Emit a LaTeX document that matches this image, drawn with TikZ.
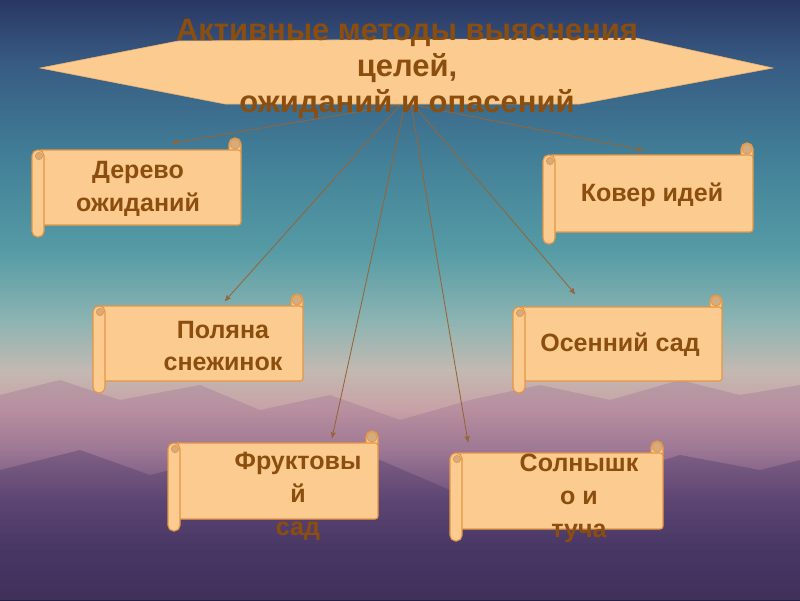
\documentclass[tikz,border=0pt]{standalone}
\usepackage{fontspec}
\setmainfont{Liberation Sans}
\usetikzlibrary{arrows}

\definecolor{peach}{RGB}{251,203,143}
\definecolor{rim}{RGB}{228,150,70}
\definecolor{curl}{RGB}{212,172,128}
\definecolor{ink}{RGB}{140,78,14}
\definecolor{wire}{RGB}{150,100,55}
\definecolor{bga}{RGB}{42,55,100}
\definecolor{bgb}{RGB}{55,90,130}
\definecolor{bgc}{RGB}{65,125,150}
\definecolor{bgd}{RGB}{85,155,165}
\definecolor{bge}{RGB}{140,180,178}
\definecolor{bgf}{RGB}{195,185,178}
\definecolor{bgg}{RGB}{200,160,165}
\definecolor{bgh}{RGB}{160,125,150}
\definecolor{bgi}{RGB}{90,70,115}
\definecolor{bgj}{RGB}{45,40,85}
\definecolor{bgk}{RGB}{30,28,65}
\definecolor{hill}{RGB}{150,105,145}
\definecolor{deep}{RGB}{60,45,95}

\newcommand{\scrollbox}[4]{%
 \draw[scrl,rounded corners=4pt] (#3-12,#2+14) -- (#3-12,#2) -- (#3,#2) -- (#3,#2+14);
 \draw[scrl,rounded corners=2pt] (#1+6,#2+12) rectangle (#3,#4-12);
 \draw[scrl,rounded corners=4pt] (#1,#2+12) rectangle (#1+12,#4);
 \draw[rim,fill=curl,line width=.5pt] (#1+7,#2+18) circle (2.6pt);
 \draw[rim,fill=curl,line width=.5pt] (#3-6,#2+6) circle (3.6pt);
}

\begin{document}
\begin{tikzpicture}[x=0.025cm,y=-0.025cm,
 scrl/.style={draw=rim,fill=peach,line width=.8pt},
 lbl/.style={text=ink,font=\bfseries\fontsize{17.8}{23.4}\selectfont,align=center},
 ttl/.style={text=ink,font=\bfseries\fontsize{22}{25.6}\selectfont,align=center},
 lnk/.style={wire,line width=.6pt,->,>=stealth'}]
\useasboundingbox (0,0) rectangle (800,600);
% background
\foreach \ya/\yb/\ca/\cb in {0/60/bga/bgb, 60/150/bgb/bgc, 150/250/bgc/bgd, 250/320/bgd/bge,
 320/370/bge/bgf, 370/410/bgf/bgg, 410/450/bgg/bgh, 450/500/bgh/bgi, 500/550/bgi/bgj, 550/600/bgj/bgk} {
 \shade[top color=\ca,bottom color=\cb] (0,\ya) rectangle (800,\yb+1);
}
\fill[hill,opacity=.3] (0,395) -- (60,380) -- (120,400) -- (200,385) -- (260,410) -- (330,395) -- (400,420)
 -- (470,400) -- (540,385) -- (610,400) -- (680,380) -- (740,395) -- (800,385) -- (800,600) -- (0,600) -- cycle;
\fill[deep,opacity=.3] (0,470) -- (80,450) -- (150,475) -- (230,455) -- (310,480) -- (380,460) -- (450,490)
 -- (530,465) -- (600,480) -- (680,455) -- (760,470) -- (800,460) -- (800,600) -- (0,600) -- cycle;
% links
\foreach \n/\sx/\ex/\ey in {dre/405/172/143, pol/401/225/301, fru/405/332/438,
 sol/411/468/442, ose/413/575/294, kov/408/643/150} {
 \coordinate (s\n) at (\sx,104);
 \coordinate (e\n) at (\ex,\ey);
 \draw[lnk] (s\n) -- (e\n);
}
% title
\draw[fill=peach,draw=rim!50!peach] (40,68) -- (178,41) -- (636,38) -- (773,68) -- (580,104) -- (225,104) -- cycle;
\node[ttl] (ttl) at (407,69) {Активные методы выяснения\\целей,\\ожиданий и опасений};
% scrolls
\scrollbox{32}{138}{241}{237}
\scrollbox{543}{143}{753}{244}
\scrollbox{93}{294}{303}{393}
\scrollbox{513}{295}{722}{393}
\scrollbox{168}{431}{378}{531}
\scrollbox{450}{441}{663}{541}
\node[lbl] (dre) at (138,189) {Дерево\\ожиданий};
\node[lbl] (kov) at (652,195) {Ковер идей};
\node[lbl] (pol) at (223,346) {Поляна\\снежинок};
\node[lbl] (ose) at (620,345) {Осенний сад};
\node[lbl] (fru) at (298,496) {Фруктовы\\й\\сад};
\node[lbl] (sol) at (579,498) {Солнышк\\о и\\туча};
\end{tikzpicture}
\end{document}
